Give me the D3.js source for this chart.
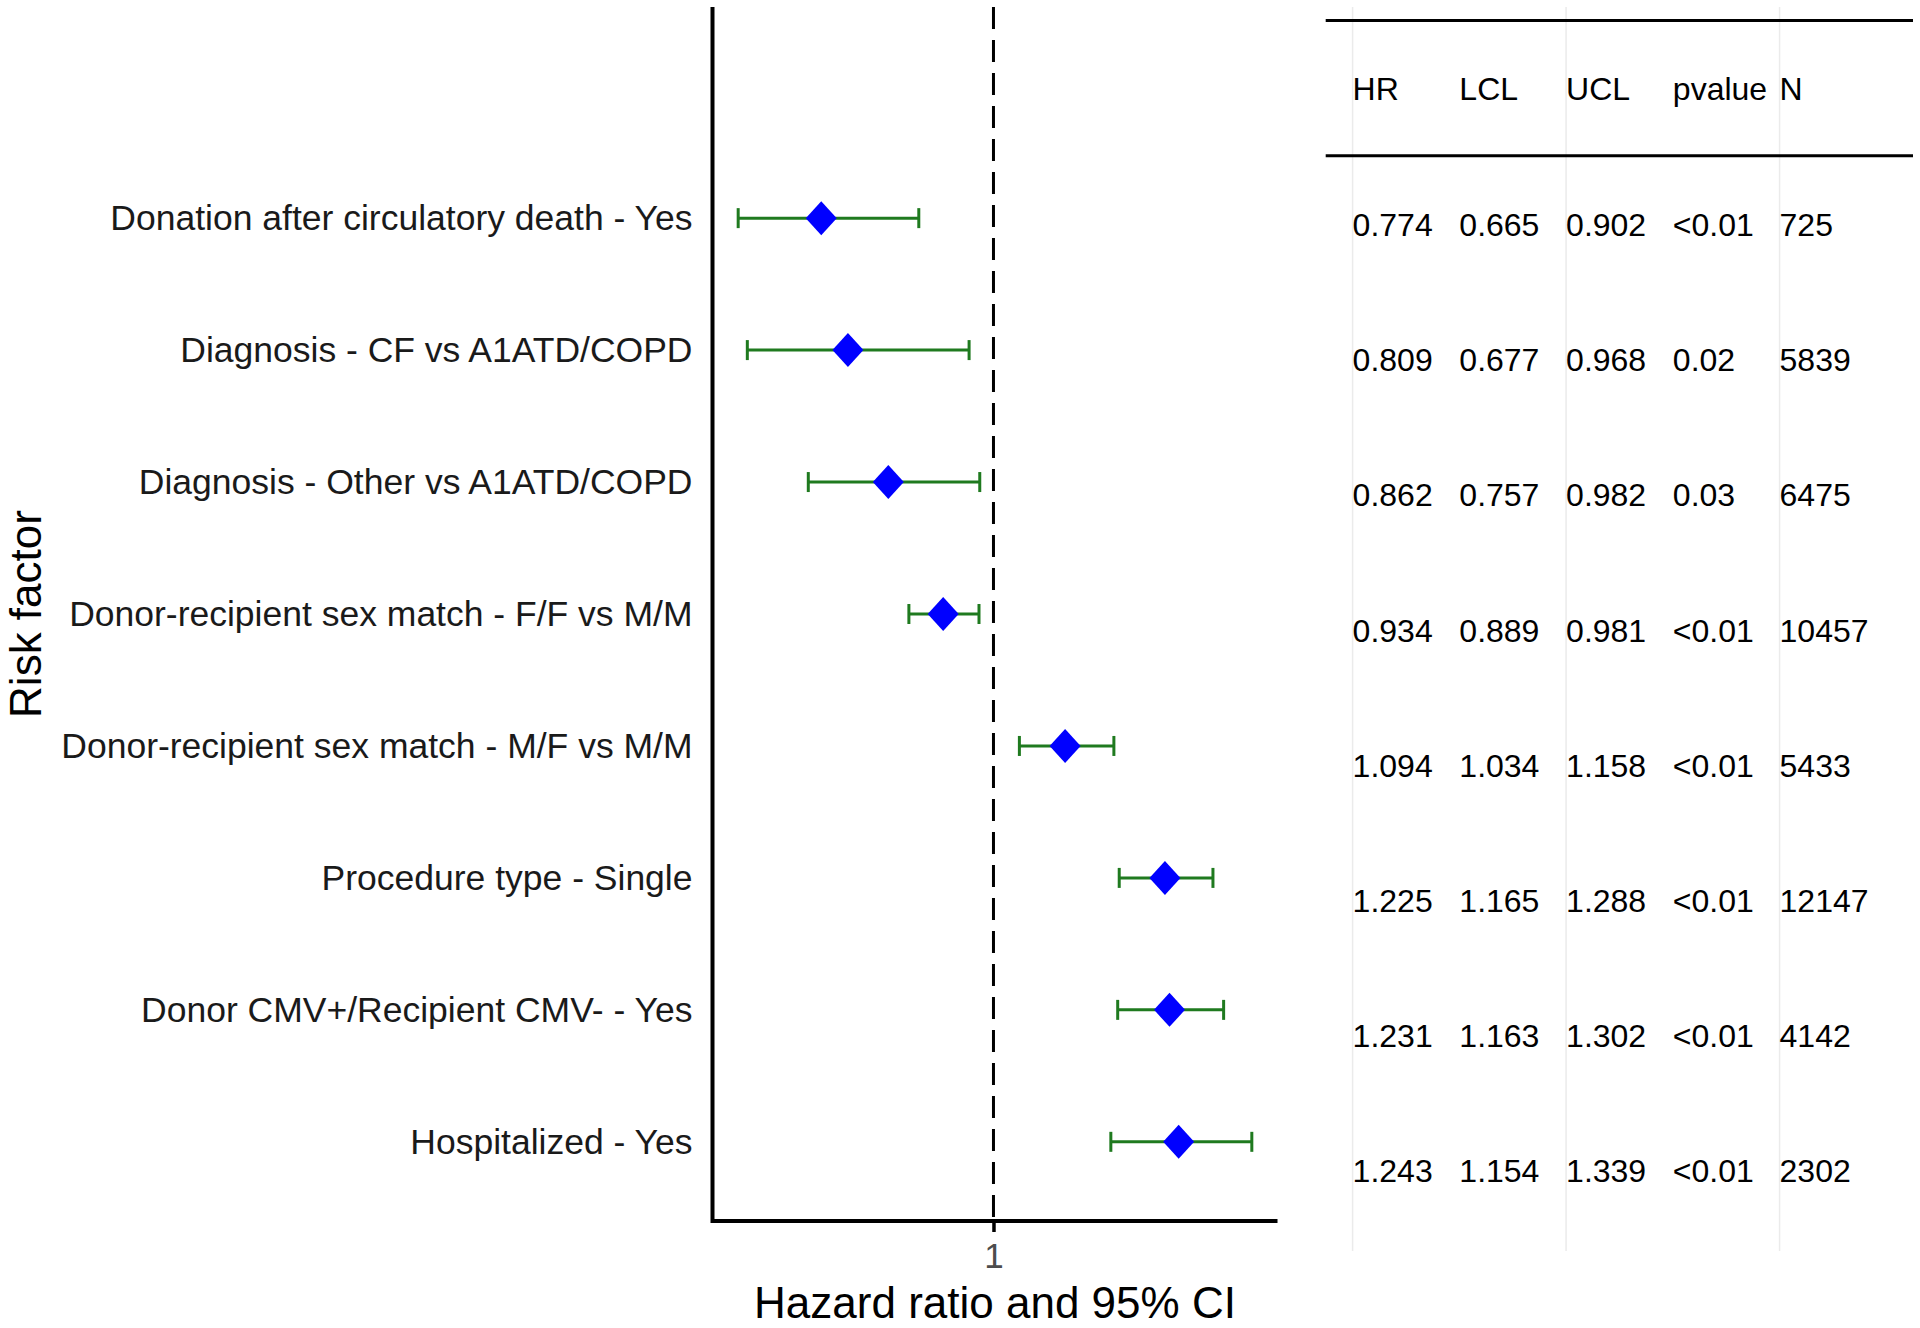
<!DOCTYPE html>
<html>
<head>
<meta charset="utf-8">
<script src="https://cdn.jsdelivr.net/npm/d3@7"></script>
<style>
  body { margin: 0; background: #fff; }
  text { font-family: "Liberation Sans", Arial, sans-serif; }
</style>
</head>
<body>
<div id="chart"></div>
<script>
// risk factors, top to bottom
var factors = [
  "Donation after circulatory death - Yes",
  "Diagnosis - CF vs A1ATD/COPD",
  "Diagnosis - Other vs A1ATD/COPD",
  "Donor-recipient sex match - F/F vs M/M",
  "Donor-recipient sex match - M/F vs M/M",
  "Procedure type - Single",
  "Donor CMV+/Recipient CMV- - Yes",
  "Hospitalized - Yes"
];
var hr   = [0.774, 0.809, 0.862, 0.934, 1.094, 1.225, 1.231, 1.243];
var lcl  = [0.665, 0.677, 0.757, 0.889, 1.034, 1.165, 1.163, 1.154];
var ucl  = [0.902, 0.968, 0.982, 0.981, 1.158, 1.288, 1.302, 1.339];
var pval = ["<0.01", "0.02", "0.03", "<0.01", "<0.01", "<0.01", "<0.01", "<0.01"];
var nObs = [725, 5839, 6475, 10457, 5433, 12147, 4142, 2302];
var colHeads = ["HR", "LCL", "UCL", "pvalue", "N"];
var xTicks = [1];

var data = factors.map(function(f, i) {
  return {factor: f, hr: hr[i], lcl: lcl[i], ucl: ucl[i], p: pval[i], n: nObs[i]};
});

var W = 1920, H = 1328;
var svg = d3.select("#chart").append("svg")
  .attr("width", W).attr("height", H);

// ---- forest panel ----
var panel = {left: 712.5, right: 1277.5, top: 7, bottom: 1221};

var ext = d3.extent(lcl.concat(ucl));
var pad = (ext[1] - ext[0]) * 0.05;
var x = d3.scaleLinear()
  .domain([ext[0] - pad, ext[1] + pad])
  .range([panel.left, panel.right]);

// first slot is an empty row lined up with the table header
var y = d3.scalePoint()
  .domain([""].concat(factors))
  .range([panel.top, panel.bottom])
  .padding(0.6);

var green = "#1f7a1f";

// reference line at HR = 1
svg.append("line")
  .attr("x1", x(1)).attr("x2", x(1))
  .attr("y1", panel.top).attr("y2", panel.bottom)
  .attr("stroke", "#000")
  .attr("stroke-width", 3)
  .attr("stroke-dasharray", "22,11");

// error bars
var bars = svg.append("g").selectAll("g")
  .data(data).enter().append("g");
bars.append("line")
  .attr("x1", function(d) { return x(d.lcl); })
  .attr("x2", function(d) { return x(d.ucl); })
  .attr("y1", function(d) { return y(d.factor); })
  .attr("y2", function(d) { return y(d.factor); })
  .attr("stroke", green).attr("stroke-width", 3);
["lcl", "ucl"].forEach(function(k) {
  bars.append("line")
    .attr("x1", function(d) { return x(d[k]); })
    .attr("x2", function(d) { return x(d[k]); })
    .attr("y1", function(d) { return y(d.factor) - 10; })
    .attr("y2", function(d) { return y(d.factor) + 10; })
    .attr("stroke", green).attr("stroke-width", 3);
});

// diamonds
var hw = 15.5, hh = 17;
svg.append("g").selectAll("path")
  .data(data).enter().append("path")
  .attr("d", function(d) {
    var cx = x(d.hr), cy = y(d.factor);
    return "M" + cx + "," + (cy - hh) + "L" + (cx + hw) + "," + cy +
           "L" + cx + "," + (cy + hh) + "L" + (cx - hw) + "," + cy + "Z";
  })
  .attr("fill", "#0000ff");

// y axis
var yAxis = svg.append("g")
  .attr("transform", "translate(" + panel.left + ",0)")
  .call(d3.axisLeft(y).tickValues(factors).tickSize(0).tickPadding(20));
yAxis.select(".domain").remove();
yAxis.selectAll("text")
  .style("font-size", "35.5px")
  .attr("fill", "#1a1a1a");

// x axis
var xAxis = svg.append("g")
  .attr("transform", "translate(0," + panel.bottom + ")")
  .call(d3.axisBottom(x).tickValues(xTicks).tickSize(11).tickPadding(11)
        .tickFormat(d3.format("d")));
xAxis.select(".domain").remove();
xAxis.selectAll(".tick line").attr("stroke", "#000").attr("stroke-width", 3.5);
xAxis.selectAll("text")
  .style("font-size", "35px")
  .attr("fill", "#4d4d4d");

// axis lines (L shape)
svg.append("path")
  .attr("d", "M" + panel.left + "," + panel.top + "V" + panel.bottom + "H" + panel.right)
  .attr("fill", "none")
  .attr("stroke", "#000")
  .attr("stroke-width", 4)
  .attr("stroke-linejoin", "miter");

// axis titles
svg.append("text")
  .attr("x", (panel.left + panel.right) / 2)
  .attr("y", 1318)
  .attr("text-anchor", "middle")
  .style("font-size", "44px")
  .text("Hazard ratio and 95% CI");

svg.append("text")
  .attr("transform", "translate(41," + (panel.top + panel.bottom) / 2 + ") rotate(-90)")
  .attr("text-anchor", "middle")
  .style("font-size", "44px")
  .text("Risk factor");

// ---- table panel ----
var tab = {left: 1325.7, right: 1913, top: 7, bottom: 1251};
var tx = d3.scaleLinear().domain([0.748, 6.25]).range([tab.left, tab.right]);
var ty = d3.scalePoint()
  .domain(["header"].concat(factors))
  .range([tab.top, tab.bottom])
  .padding(0.6);

// faint grid lines
svg.append("g").selectAll("line")
  .data([1, 3, 5]).enter().append("line")
  .attr("x1", function(d) { return tx(d); })
  .attr("x2", function(d) { return tx(d); })
  .attr("y1", tab.top).attr("y2", tab.bottom)
  .attr("stroke", "#ebebeb").attr("stroke-width", 1.5);

// header rules
var hy = ty("header"), half = ty.step() / 2;
svg.append("g").selectAll("line")
  .data([hy - half, hy + half]).enter().append("line")
  .attr("x1", tab.left).attr("x2", tab.right)
  .attr("y1", function(d) { return d; })
  .attr("y2", function(d) { return d; })
  .attr("stroke", "#000").attr("stroke-width", 3);

// header text
svg.append("g").selectAll("text")
  .data(colHeads).enter().append("text")
  .attr("x", function(d, i) { return tx(i + 1); })
  .attr("y", hy)
  .attr("dy", "0.36em")
  .style("font-size", "32px")
  .text(function(d) { return d; });

// table cells
var f3 = d3.format(".3f");
var rows = svg.append("g").selectAll("g")
  .data(data).enter().append("g")
  .attr("transform", function(d) { return "translate(0," + (ty(d.factor) + 1) + ")"; });
rows.selectAll("text")
  .data(function(d) { return [f3(d.hr), f3(d.lcl), f3(d.ucl), d.p, String(d.n)]; })
  .enter().append("text")
  .attr("x", function(d, i) { return tx(i + 1); })
  .attr("dy", "0.36em")
  .style("font-size", "32px")
  .text(function(d) { return d; });
</script>
</body>
</html>
